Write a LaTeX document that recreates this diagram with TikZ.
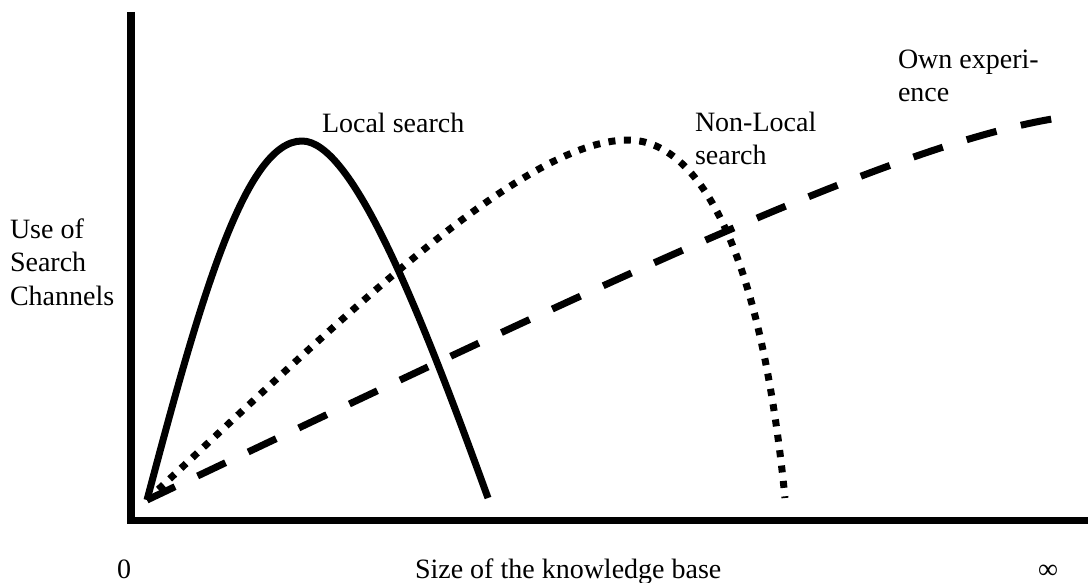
\documentclass[tikz,border=0pt]{standalone}
\usepackage{fontspec}
\setmainfont{Liberation Serif}
\begin{document}
\begin{tikzpicture}[x=1pt,y=-1pt,
  lbl/.style={inner sep=0pt,outer sep=0pt,anchor=base west,align=left,font=\fontsize{28}{33.5}\selectfont},
  axisline/.style={line width=7.5pt,line join=miter,line cap=butt},
  curve/.style={line width=7pt,line cap=butt,line join=round},
  dottedcurve/.style={curve,dash pattern=on 7pt off 8.5pt},
  dashedcurve/.style={curve,dash pattern=on 31pt off 25pt}]
\useasboundingbox (0,0) rectangle (1088,583);
% axes
\coordinate (ytop) at (131,12);
\coordinate (origin) at (131,520.5);
\coordinate (xend) at (1088,520.5);
\draw[axisline] (ytop) -- (origin) -- (xend);
% curve points
\coordinate (start) at (147,500);
\coordinate (lpeak) at (302,141);
\coordinate (lend) at (488,498);
\coordinate (npeak) at (628,140);
\coordinate (nend) at (785,498);
\coordinate (oend) at (1065,117);
% local search (solid)
\draw[curve] (start) .. controls (200,300) and (245,141) .. (lpeak)
  .. controls (352,141) and (418,305) .. (lend);
% non-local search (dotted)
\draw[dottedcurve] (start) .. controls (330,330) and (520,140) .. (npeak)
  .. controls (690,140) and (758,225) .. (nend);
% own experience (dashed)
\draw[dashedcurve] (start) .. controls (600,285) and (900,140) .. (oend);
% labels
\node[lbl] (local) at (322,133) {Local search};
\node[lbl] (nonlocal) at (695,165) {Non-Local\\search};
\node[lbl] (own) at (898,102) {Own experi-\\ence};
\node[lbl] (yl) at (10,305) {Use of\\Search\\Channels};
\node[lbl] (zero) at (117,578) {0};
\node[lbl] (xl) at (415,578) {Size of the knowledge base};
\node[lbl] (inf) at (1038,578) {∞};
\end{tikzpicture}
\end{document}
